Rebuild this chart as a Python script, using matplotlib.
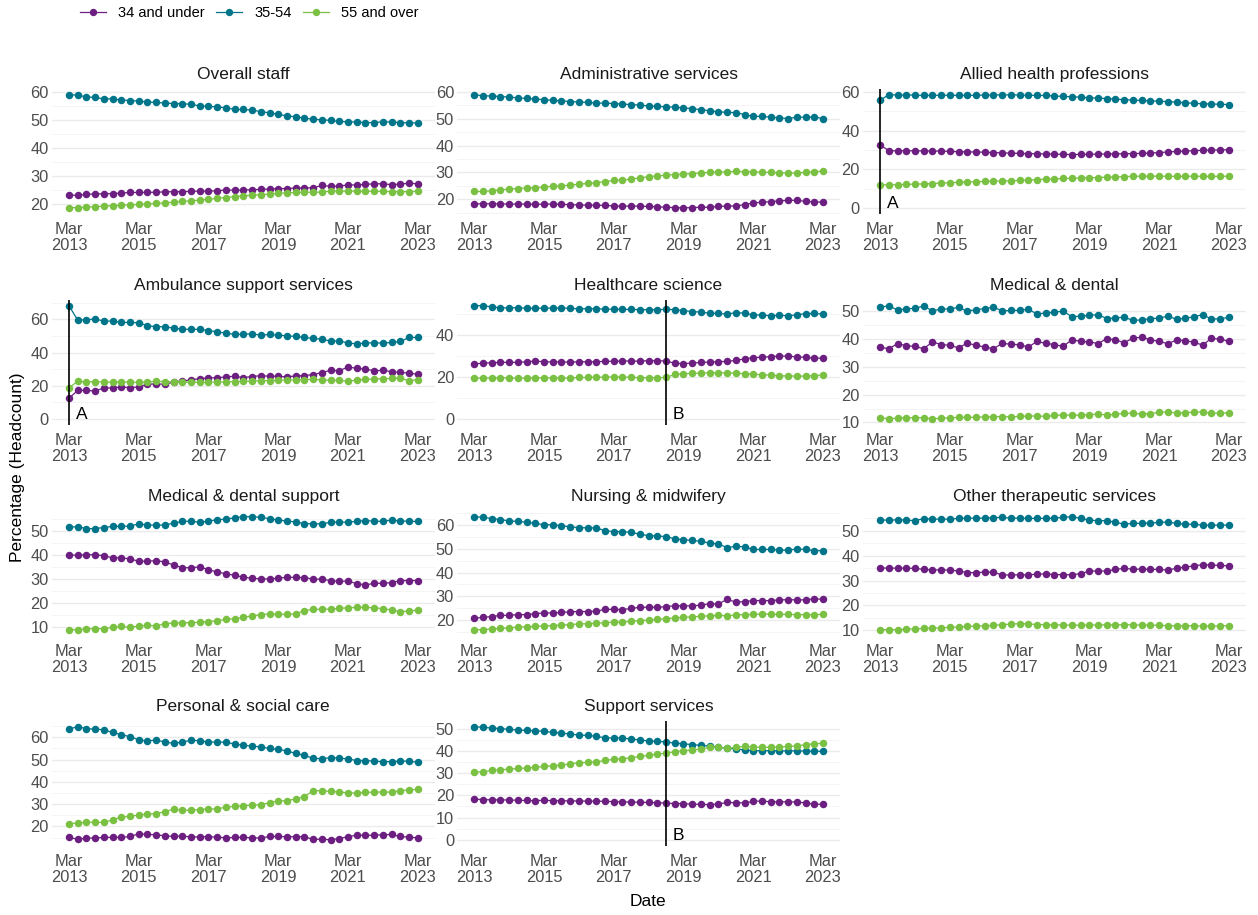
import matplotlib
matplotlib.use("Agg")
import matplotlib.pyplot as plt
import matplotlib.dates as mdates
from matplotlib.ticker import MultipleLocator
from matplotlib.lines import Line2D
import pandas as pd

plt.rcParams['font.family'] = ['Liberation Sans', 'DejaVu Sans']

# Quarterly snapshots, March 2013 to March 2023
dates = pd.date_range("2013-03-01", periods=41, freq="3MS")

age_groups = ["34 and under", "35-54", "55 and over"]
age_colors = ["#6C1F80", "#00758A", "#7AC143"]

overall_u34 = [23.0,23.0,23.3,23.5,23.5,23.6,23.8,24.0,24.0,24.0, 24.1,24.2,24.3,24.3,24.4,24.5,24.5,24.6,24.9,24.8,
               24.9,25.0,25.1,25.2,25.4,25.4,25.6,25.6,25.7,26.5, 26.2,26.3,26.7,26.7,26.9,27.1,27.1,26.8,27.0,27.3, 27.1]
overall_35_54 = [59.0,58.8,58.2,58.0,57.5,57.5,57.1,56.9,56.7,56.4, 56.2,56.0,55.8,55.8,55.5,55.0,54.8,54.6,54.3,53.7,
                 53.7,53.5,52.9,52.5,52.0,51.4,51.1,50.6,50.2,50.0, 49.8,49.4,49.3,49.2,49.0,49.0,49.3,49.2,49.0,48.9, 48.9]
overall_55 = [18.5,18.6,18.8,18.9,19.1,19.3,19.4,19.6,19.7,19.9, 20.1,20.3,20.5,20.8,21.0,21.3,21.6,21.9,22.2,22.5,
              22.8,23.0,23.2,23.4,23.7,23.9,24.0,24.1,24.1,24.1, 24.5,24.5,24.5,24.5,24.4,24.4,24.4,24.3,24.3,24.3, 24.4]

admin_u34 = [18.3,18.3,18.3,18.3,18.2,18.2,18.2,18.1,18.2,18.2, 18.1,18.0,17.9,17.8,17.8,17.7,17.5,17.4,17.5,17.4,
             17.3,17.2,17.0,16.9,16.8,16.9,17.0,17.0,17.3,17.5, 17.5,18.0,18.6,18.9,19.1,19.4,19.6,19.6,19.2,19.0, 19.0]
admin_35_54 = [59.0,58.6,58.5,58.3,58.1,57.8,57.6,57.4,57.1,56.9, 56.7,56.4,56.3,56.1,55.9,55.8,55.7,55.5,55.3,55.1,
               54.8,54.6,54.5,54.3,54.1,53.8,53.4,53.0,52.6,52.4, 52.3,51.6,50.9,50.9,50.6,50.4,50.1,50.6,50.6,50.7, 50.1]
admin_55 = [22.9,22.9,23.2,23.5,23.8,24.0,24.2,24.3,24.6,24.8, 25.0,25.3,25.6,25.9,26.2,26.6,27.0,27.2,27.5,28.0,
            28.4,28.7,29.0,29.2,29.4,29.6,29.8,30.0,30.1,30.2, 30.4,30.3,30.2,30.1,30.0,29.9,29.7,29.8,30.0,30.3, 30.5]

allied_u34 = [32.6,29.6,29.5,29.6,29.5,29.5,29.4,29.4,29.2,29.1, 29.0,28.9,28.8,28.6,28.5,28.3,28.2,28.1,28.0,27.9,
              27.8,27.7,27.6,27.7,27.7,27.8,27.9,28.0,28.0,28.1, 28.2,28.4,28.6,28.9,29.2,29.4,29.6,29.8,29.9,30.0, 30.1]
allied_35_54 = [55.6,58.6,58.4,58.4,58.4,58.2,58.2,58.3,58.3,58.2, 58.2,58.3,58.4,58.4,58.5,58.5,58.4,58.3,58.2,58.2,
                57.9,57.7,57.5,57.3,57.0,56.8,56.6,56.3,56.0,55.8, 55.6,55.4,55.2,55.0,54.7,54.4,54.1,53.9,53.8,53.6, 53.5]
allied_55 = [11.9,11.9,12.0,12.1,12.3,12.4,12.6,12.8,13.0,13.2, 13.4,13.5,13.7,13.8,13.9,14.0,14.2,14.4,14.6,14.8,
             15.0,15.2,15.3,15.5,15.6,15.7,15.9,16.0,16.2,16.3, 16.4,16.4,16.4,16.3,16.3,16.3,16.4,16.3,16.3,16.3, 16.4]

ambulance_u34 = [12.3,17.2,17.2,16.8,18.6,18.6,19.2,18.8,19.2,20.8, 21.2,20.8,22.2,22.8,23.6,24.2,24.8,24.8,25.3,25.7,
                 24.9,25.5,26.1,25.7,25.7,25.3,25.9,26.1,26.7,27.9, 29.3,29.0,31.3,30.5,30.0,29.0,29.3,28.5,28.0,27.6, 26.9]
ambulance_35_54 = [68.3,59.6,59.8,60.2,59.0,59.0,58.2,58.2,58.0,56.2, 55.6,55.6,54.7,54.1,54.0,54.0,53.3,52.5,51.7,50.9,
                   51.1,51.3,50.5,50.9,50.5,50.1,49.7,49.1,48.5,48.1, 46.9,47.1,45.7,45.3,45.7,45.9,45.7,46.1,46.7,49.1, 49.1]
ambulance_55 = [18.8,22.6,22.4,22.4,22.2,22.2,22.2,22.2,22.0,22.3, 22.6,22.5,22.3,22.2,22.0,22.0,22.1,22.2,22.3,22.5,
                22.6,22.8,23.0,23.1,23.3,23.4,23.5,23.6,23.8,23.6, 23.2,23.2,22.6,23.4,23.8,24.0,24.2,24.4,24.6,23.0, 23.6]

science_u34 = [26.4,26.6,26.9,27.0,27.1,27.0,27.4,27.6,27.4,27.2, 27.3,27.1,27.4,27.3,27.4,27.5,27.6,27.7,27.7,27.6,
               27.9,27.8,27.7,26.6,26.5,26.7,27.0,27.2,27.4,27.5, 28.0,28.7,29.3,29.5,29.8,30.1,30.0,29.7,29.4,29.1, 29.0]
science_35_54 = [54.2,54.2,53.6,53.2,53.1,53.3,52.9,53.0,53.0,53.0, 53.1,52.9,52.7,52.8,52.7,52.5,52.5,52.4,52.4,52.3,
                 52.3,52.3,52.4,52.3,51.8,51.4,51.1,50.6,50.5,50.1, 50.9,50.6,49.8,49.7,49.4,49.6,49.4,49.8,50.4,50.5, 50.1]
science_55 = [19.4,19.6,19.6,19.7,19.6,19.5,19.5,19.6,19.7,19.6, 19.6,19.5,19.8,19.8,19.9,20.0,20.1,20.0,19.9,19.7,
              19.7,19.7,19.8,21.3,21.6,21.8,21.9,22.0,22.1,22.0, 21.9,21.6,21.4,21.1,20.9,20.6,20.6,20.4,20.5,20.7, 21.0]

medical_u34 = [36.9,36.4,38.2,37.5,37.2,36.4,38.8,37.9,37.6,36.7, 38.4,37.6,37.0,36.4,38.3,38.0,37.8,37.0,39.0,38.3,
               37.9,37.2,39.6,39.0,38.9,38.2,40.0,39.6,38.5,40.2, 40.5,39.6,39.0,38.2,39.5,39.3,38.7,37.7,40.1,39.8, 39.1]
medical_35_54 = [51.2,51.8,50.2,50.7,50.8,51.7,49.9,50.6,50.6,51.2, 49.8,50.4,50.7,51.3,49.9,50.1,50.1,50.5,48.8,49.2,
                 49.4,49.9,47.8,48.1,48.3,48.6,47.2,47.4,47.7,46.5, 46.7,47.2,47.3,48.1,46.9,47.3,47.8,48.6,47.0,47.1, 47.6]
medical_55 = [11.6,11.4,11.5,11.7,11.7,11.7,11.3,11.5,11.7,11.8, 11.8,11.9,12.0,12.1,12.1,12.0,12.2,12.3,12.3,12.2,
              12.5,12.7,12.6,12.6,12.8,13.0,12.7,12.9,13.3,13.3, 13.0,13.2,13.6,13.8,13.4,13.5,13.7,13.8,13.3,13.4, 13.4]

md_support_u34 = [39.9,39.9,40.0,40.1,39.6,38.8,38.8,38.3,37.4,37.4, 37.6,37.1,35.8,34.7,34.7,35.0,33.9,32.9,32.2,31.5,
                  30.8,30.3,30.1,30.0,30.4,30.7,30.7,30.6,30.0,29.9, 29.4,29.0,29.2,28.1,27.6,28.2,28.3,28.5,29.4,29.4, 29.4]
md_support_35_54 = [51.4,51.7,50.8,50.9,51.3,51.8,51.8,51.9,52.8,52.4, 52.2,52.4,53.1,53.9,53.9,53.5,53.9,54.6,54.7,55.4,
                    55.8,55.8,55.5,55.0,54.4,54.0,53.6,52.9,52.9,52.8, 53.5,53.6,53.5,53.9,54.2,53.9,53.9,54.4,54.0,53.9, 53.8]
md_support_55 = [9.0,9.1,9.4,9.5,9.5,10.0,10.4,10.0,10.6,10.8, 10.7,11.4,11.9,11.9,12.0,12.1,12.4,12.8,13.3,13.6,
                 14.2,14.7,15.3,15.6,15.4,15.4,15.6,16.9,17.5,17.5, 17.6,17.9,18.1,18.3,18.3,18.1,17.8,17.2,16.5,16.8, 17.1]

nursing_u34 = [20.8,21.1,21.5,22.0,22.0,22.3,22.3,22.7,23.0,23.0, 23.2,23.5,23.6,23.6,23.8,24.5,24.5,24.4,24.9,25.4,
               25.4,25.4,25.6,26.1,26.0,26.0,26.3,26.9,26.7,28.8, 27.5,27.8,28.2,28.2,28.2,28.5,28.6,28.5,28.5,29.0, 28.7]
nursing_35_54 = [63.5,63.2,62.7,62.3,61.7,61.5,61.1,60.7,60.1,60.1, 59.7,59.2,58.9,58.8,58.8,57.6,57.2,57.2,56.9,56.1,
                 55.5,55.4,55.1,54.2,53.8,53.5,53.1,52.4,52.0,50.5, 51.0,50.8,49.7,49.7,49.7,49.4,49.4,49.9,49.7,49.2, 49.2]
nursing_55 = [15.9,16.0,16.3,16.5,16.8,17.0,17.2,17.4,17.5,17.7, 17.9,18.1,18.4,18.5,18.7,18.9,19.1,19.2,19.5,19.8,
              20.0,20.3,20.6,20.9,21.1,21.4,21.6,21.8,22.0,21.8, 22.2,22.3,22.4,22.6,22.5,22.4,22.4,22.3,22.3,22.3, 22.4]

therapy_u34 = [35.1,35.0,35.0,35.0,34.9,34.5,34.3,34.3,34.2,33.9, 33.2,33.2,33.4,33.4,32.2,32.3,32.3,32.3,32.6,32.7,
               32.4,32.4,32.3,32.8,33.8,33.9,33.8,34.5,34.9,34.6, 34.6,34.5,34.5,34.2,35.0,35.4,35.9,36.4,36.2,36.1, 35.9]
therapy_35_54 = [54.5,54.2,54.5,54.3,54.1,54.9,54.7,54.7,54.7,55.0, 55.1,55.1,55.1,55.3,55.4,55.1,55.1,55.0,55.0,55.0,
                 55.1,55.4,55.7,55.0,54.3,54.1,54.1,53.4,52.7,53.0, 53.0,53.1,53.4,53.5,53.0,52.7,52.6,52.3,52.2,52.3, 52.3]
therapy_55 = [10.2,10.3,10.2,10.5,10.6,10.8,10.9,11.0,11.2,11.3, 11.6,11.7,11.8,12.0,12.3,12.5,12.7,12.6,12.3,12.3,
              12.2,12.2,12.0,12.1,12.1,12.2,12.2,12.2,12.3,12.2, 12.1,12.1,12.0,11.9,11.8,11.9,11.8,11.7,11.7,11.8, 11.9]

social_u34 = [15.2,14.2,14.8,14.8,15.1,15.1,15.1,15.5,16.7,16.4, 16.3,15.8,15.5,15.8,15.2,15.4,15.4,15.2,14.9,15.1,
              15.1,14.9,14.8,15.5,15.5,15.4,15.4,15.4,14.2,14.3, 14.0,14.6,15.4,16.1,16.0,16.1,16.3,16.4,15.5,15.2, 14.9]
social_35_54 = [63.7,64.8,63.9,63.7,63.4,62.2,61.2,60.3,58.9,58.4, 58.8,57.9,57.3,57.9,58.7,58.5,57.9,57.9,57.8,57.0,
                56.4,56.1,55.7,55.0,54.6,53.9,52.8,51.9,50.6,50.4, 50.9,50.7,50.3,49.6,49.6,49.3,49.1,49.1,49.3,49.3, 48.8]
social_55 = [21.2,21.6,21.8,21.9,21.8,23.0,24.2,24.5,25.2,25.5, 25.8,26.6,27.8,27.3,27.3,27.6,27.8,27.9,28.7,29.0,
             29.3,29.6,29.7,30.7,31.5,31.5,32.4,33.4,36.0,36.1, 35.7,35.5,35.1,35.0,35.3,35.4,35.5,35.4,36.1,36.4, 36.7]

support_u34 = [18.3,18.1,18.0,18.0,17.9,17.8,17.7,17.6,17.8,17.6, 17.6,17.5,17.5,17.4,17.4,17.3,17.2,17.1,17.0,16.9,
               16.8,16.7,16.5,16.3,16.3,16.0,16.0,15.8,16.1,16.8, 16.7,16.6,17.3,17.5,17.1,17.1,17.1,17.0,16.6,16.0, 16.0]
support_35_54 = [50.9,50.6,50.3,50.0,49.7,49.4,49.2,49.1,48.8,48.3, 48.0,47.6,47.1,47.0,46.5,45.9,45.8,45.8,45.3,45.0,
                 44.4,44.3,44.0,43.5,43.2,42.8,42.5,42.1,41.6,41.2, 40.9,40.4,40.1,40.1,40.1,40.1,39.9,40.1,39.9,39.9, 39.8]
support_55 = [30.6,30.6,31.2,31.5,31.8,32.1,32.3,32.6,33.0,33.3, 33.6,34.2,34.7,34.8,35.1,35.7,36.2,36.5,36.9,37.5,
              38.0,38.6,39.0,39.6,40.1,40.5,40.8,41.6,41.7,41.1, 41.6,42.0,41.7,41.6,41.6,41.7,42.0,42.3,42.8,43.2, 43.4]

panel_titles = ["Overall staff", "Administrative services", "Allied health professions",
                "Ambulance support services", "Healthcare science", "Medical & dental",
                "Medical & dental support", "Nursing & midwifery", "Other therapeutic services",
                "Personal & social care", "Support services"]
panel_series = [
    (overall_u34, overall_35_54, overall_55),
    (admin_u34, admin_35_54, admin_55),
    (allied_u34, allied_35_54, allied_55),
    (ambulance_u34, ambulance_35_54, ambulance_55),
    (science_u34, science_35_54, science_55),
    (medical_u34, medical_35_54, medical_55),
    (md_support_u34, md_support_35_54, md_support_55),
    (nursing_u34, nursing_35_54, nursing_55),
    (therapy_u34, therapy_35_54, therapy_55),
    (social_u34, social_35_54, social_55),
    (support_u34, support_35_54, support_55),
]
panel_ystep = [10, 10, 20, 20, 20, 10, 10, 10, 10, 10, 10]

# Reference lines marking breaks in the series
event_panels = ["Allied health professions", "Ambulance support services",
                "Healthcare science", "Support services"]
event_dates = ["2013-03-01", "2013-03-01", "2018-09-01", "2018-09-01"]
event_labels = ["A", "A", "B", "B"]

tick_years = [2013, 2015, 2017, 2019, 2021, 2023]

W, H = 1258, 915
fig = plt.figure(figsize=(W / 100, H / 100), dpi=100)
fig.patch.set_facecolor("white")

col_left = [51.5, 456.8, 862.6]
row_top = [89, 300, 511, 721]
pw, ph = 383.5, 124.5

x0 = mdates.date2num(dates[0])
x1 = mdates.date2num(dates[-1])
xpad = 0.05 * (x1 - x0)
tick_pos = [pd.Timestamp(f"{y}-03-01") for y in tick_years]
tick_txt = [f"Mar\n{y}" for y in tick_years]

for i, (title, series, step) in enumerate(zip(panel_titles, panel_series, panel_ystep)):
    r, c = divmod(i, 3)
    ax = fig.add_axes([col_left[c] / W, 1 - (row_top[r] + ph) / H, pw / W, ph / H])
    ax.set_facecolor("white")
    for vals, col in zip(series, age_colors):
        ax.plot(dates, vals, color=col, lw=0.9, marker="o", ms=5.4, mew=0, zorder=2)

    lo = min(min(s) for s in series)
    hi = max(max(s) for s in series)
    if title in event_panels:
        k = event_panels.index(title)
        d = pd.Timestamp(event_dates[k])
        ax.axvline(d, color="black", lw=1.2, zorder=3)
        ax.annotate(event_labels[k], xy=(d, 0), xytext=(5, 0), textcoords="offset points",
                    ha="left", va="baseline", fontsize=12.5, color="black")
        lo = min(lo, 0)
    pad = 0.05 * (hi - lo)
    ax.set_ylim(lo - pad, hi + pad)
    ax.set_xlim(x0 - xpad, x1 + xpad)

    ax.yaxis.set_major_locator(MultipleLocator(step))
    ax.yaxis.set_minor_locator(MultipleLocator(step / 2))
    ax.grid(which="major", axis="y", color="#EBEBEB", lw=1.0)
    ax.grid(which="minor", axis="y", color="#F3F3F3", lw=0.6)
    ax.grid(which="both", axis="x", visible=False)
    ax.set_axisbelow(True)
    for sp in ax.spines.values():
        sp.set_visible(False)

    ax.set_xticks(tick_pos)
    ax.set_xticklabels(tick_txt, linespacing=1.1)
    ax.tick_params(which="both", length=0, labelsize=11.8, labelcolor="#4D4D4D")
    ax.tick_params(axis="x", pad=6)
    ax.tick_params(axis="y", pad=2)
    ax.set_title(title, fontsize=12.5, color="#1A1A1A", pad=7.5)

handles = [Line2D([0], [0], color=col, lw=0.9, marker="o", ms=5.3, mew=0) for col in age_colors]
fig.legend(handles, age_groups, loc="center left", bbox_to_anchor=(80 / W, 1 - 13 / H),
           ncol=3, frameon=False, fontsize=10.5, handlelength=1.8, handletextpad=0.8,
           columnspacing=0.8, borderpad=0, borderaxespad=0)

fig.text(18 / W, 1 - 467 / H, "Percentage (Headcount)", rotation=90, ha="center", va="center",
         fontsize=12.5, color="black")
fig.text(648 / W, 1 - 902 / H, "Date", ha="center", va="center", fontsize=12.5, color="black")

fig.savefig("out.png", dpi=100, facecolor="white")
